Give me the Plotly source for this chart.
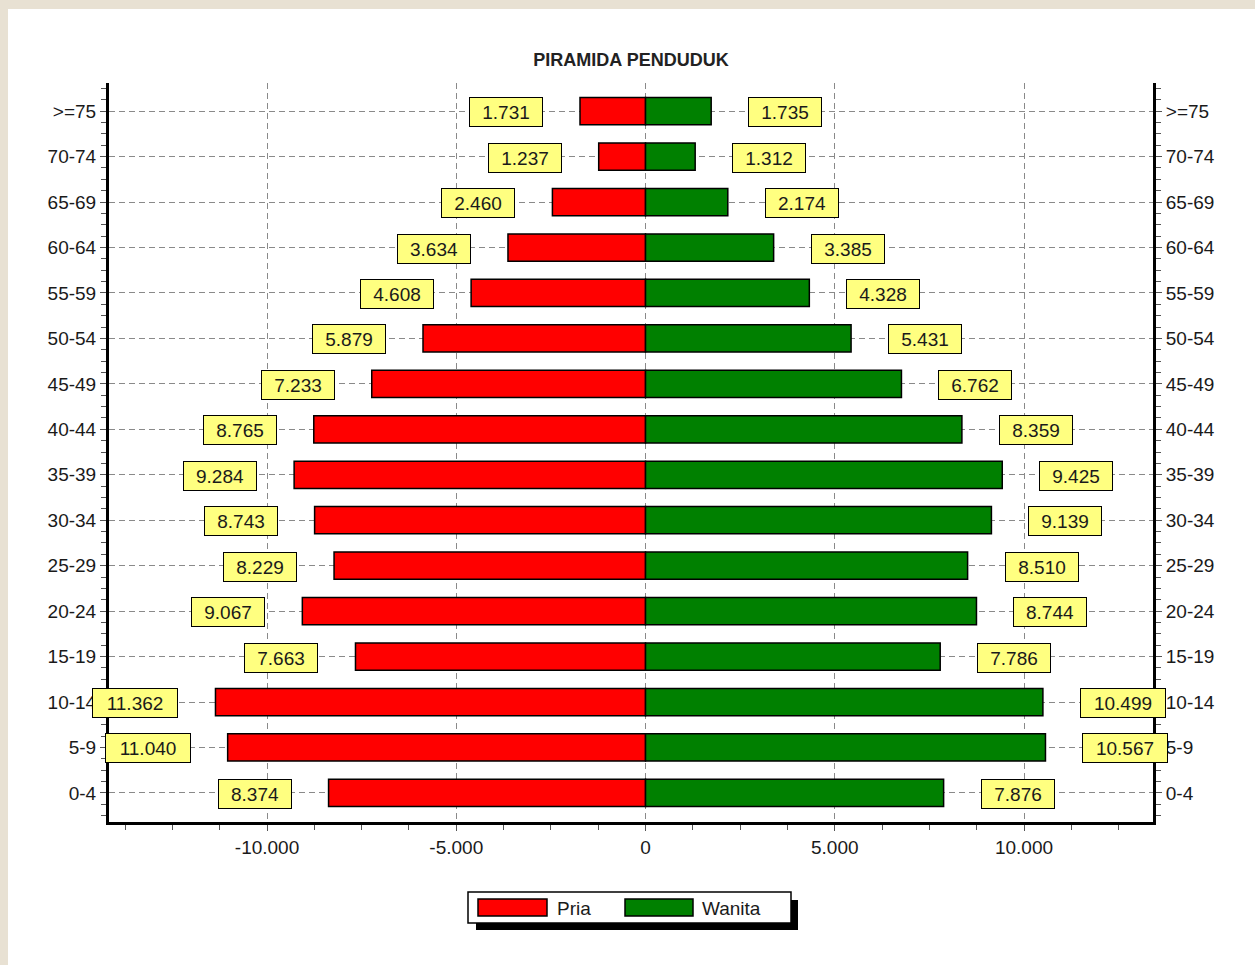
import plotly.graph_objects as go

# ---- data ----
categories = ["0-4", "5-9", "10-14", "15-19", "20-24", "25-29", "30-34", "35-39",
              "40-44", "45-49", "50-54", "55-59", "60-64", "65-69", "70-74", ">=75"]
pria = [8374, 11040, 11362, 7663, 9067, 8229, 8743, 9284,
        8765, 7233, 5879, 4608, 3634, 2460, 1237, 1731]
wanita = [7876, 10567, 10499, 7786, 8744, 8510, 9139, 9425,
          8359, 6762, 5431, 4328, 3385, 2174, 1312, 1735]
x_tickvals = [-10000, -5000, 0, 5000, 10000]
x_ticktext = ["-10.000", "-5.000", "0", "5.000", "10.000"]
title_text = "PIRAMIDA PENDUDUK"
series_names = ["Pria", "Wanita"]

# ---- layout geometry (pixels) ----
W, H = 1255, 965
L, R, T, B = 109, 1153, 83, 822
PW, PH = R - L, B - T


def px_x(x):
    return (x - L) / PW


def px_y(y):
    return (B - y) / PH


def fmt(v):
    return f"{v:,}".replace(",", ".")


ypos = list(range(len(categories)))
FONT = "Liberation Sans, Arial, sans-serif"
TXT = "#1a1a1a"
GRID = "#8a8a8a"

fig = go.Figure()
fig.add_trace(go.Bar(
    y=ypos, x=[-v for v in pria], orientation="h", width=0.6, name=series_names[0],
    marker=dict(color="#FF0000", line=dict(color="black", width=1.5)),
    showlegend=False, yaxis="y",
))
fig.add_trace(go.Bar(
    y=ypos, x=wanita, orientation="h", width=0.6, name=series_names[1],
    marker=dict(color="#008000", line=dict(color="black", width=1.5)),
    showlegend=False, yaxis="y2",
))

annotations = []
for sign, vals in ((-1, pria), (1, wanita)):
    for i, v in enumerate(vals):
        t = fmt(v)
        annotations.append(dict(
            x=sign * v, y=i, xref="x", yref="y", text=t, showarrow=False,
            xanchor="right" if sign < 0 else "left", xshift=37 * sign, yshift=-1,
            bgcolor="#FFFF80", bordercolor="black", borderwidth=1, borderpad=1,
            width=12 * (len(t) + 1) - 2, height=26,
            font=dict(family=FONT, size=19, color=TXT),
        ))

# legend (drawn manually)
annotations.append(dict(x=px_x(555), y=px_y(908), xref="paper", yref="paper",
                        text=series_names[0], showarrow=False, xanchor="left",
                        yanchor="middle",
                        font=dict(family=FONT, size=19, color=TXT)))
annotations.append(dict(x=px_x(700), y=px_y(908), xref="paper", yref="paper",
                        text=series_names[1], showarrow=False, xanchor="left",
                        yanchor="middle",
                        font=dict(family=FONT, size=19, color=TXT)))

shapes = [
    # white panel on beige background
    dict(type="rect", xref="paper", yref="paper", layer="below",
         x0=px_x(8), x1=px_x(1260), y0=px_y(9), y1=px_y(970),
         fillcolor="white", line=dict(width=0)),
    # legend shadow
    dict(type="rect", xref="paper", yref="paper",
         x0=px_x(476), x1=px_x(798), y0=px_y(900), y1=px_y(930),
         fillcolor="black", line=dict(width=0)),
    # legend box
    dict(type="rect", xref="paper", yref="paper",
         x0=px_x(468), x1=px_x(791), y0=px_y(892), y1=px_y(923),
         fillcolor="white", line=dict(color="black", width=1.5)),
    dict(type="rect", xref="paper", yref="paper",
         x0=px_x(478), x1=px_x(547), y0=px_y(899), y1=px_y(916),
         fillcolor="#FF0000", line=dict(color="black", width=1.5)),
    dict(type="rect", xref="paper", yref="paper",
         x0=px_x(625), x1=px_x(693), y0=px_y(899), y1=px_y(916),
         fillcolor="#008000", line=dict(color="black", width=1.5)),
]

yr = [-0.64, 15.62]
yaxis_common = dict(
    range=yr, tickmode="array", tickvals=ypos, ticktext=categories,
    showline=True, linewidth=3, linecolor="black",
    ticks="outside", ticklen=6, tickcolor="#555", zeroline=False,
    tickfont=dict(family=FONT, size=19, color=TXT),
    minor=dict(dtick=0.25, tick0=0, ticks="outside", ticklen=5,
               tickcolor="#555", showgrid=False),
    fixedrange=True,
)

fig.update_layout(
    width=W, height=H,
    margin=dict(l=L, r=W - R, t=T, b=H - B),
    paper_bgcolor="#E8E1D3", plot_bgcolor="white",
    barmode="overlay",
    title=dict(text=f"<b>{title_text}</b>", x=(L + R) / 2 / W, xref="container",
               y=1 - 60 / H, yref="container", xanchor="center", yanchor="middle",
               font=dict(family=FONT, size=18, color="#222")),
    xaxis=dict(
        range=[-14175, 13408], tickmode="array", tickvals=x_tickvals, ticktext=x_ticktext,
        showgrid=True, gridcolor=GRID, gridwidth=1, griddash="6px,4px",
        zeroline=False, showline=True, linewidth=3, linecolor="black",
        ticks="outside", ticklen=6, tickcolor="#555",
        tickfont=dict(family=FONT, size=19, color=TXT),
        minor=dict(dtick=1250, tick0=0, ticks="outside", ticklen=5,
                   tickcolor="#555", showgrid=False),
        fixedrange=True,
    ),
    yaxis=dict(**yaxis_common, side="left", showgrid=True, gridcolor=GRID,
               gridwidth=1, griddash="6px,4px"),
    yaxis2=dict(**yaxis_common, side="right", overlaying="y", showgrid=False),
    annotations=annotations,
    shapes=shapes,
    showlegend=False,
)

fig.write_html("out.html", config={"displayModeBar": False},
               post_script="document.body.style.margin='0';document.body.style.overflow='hidden';")
